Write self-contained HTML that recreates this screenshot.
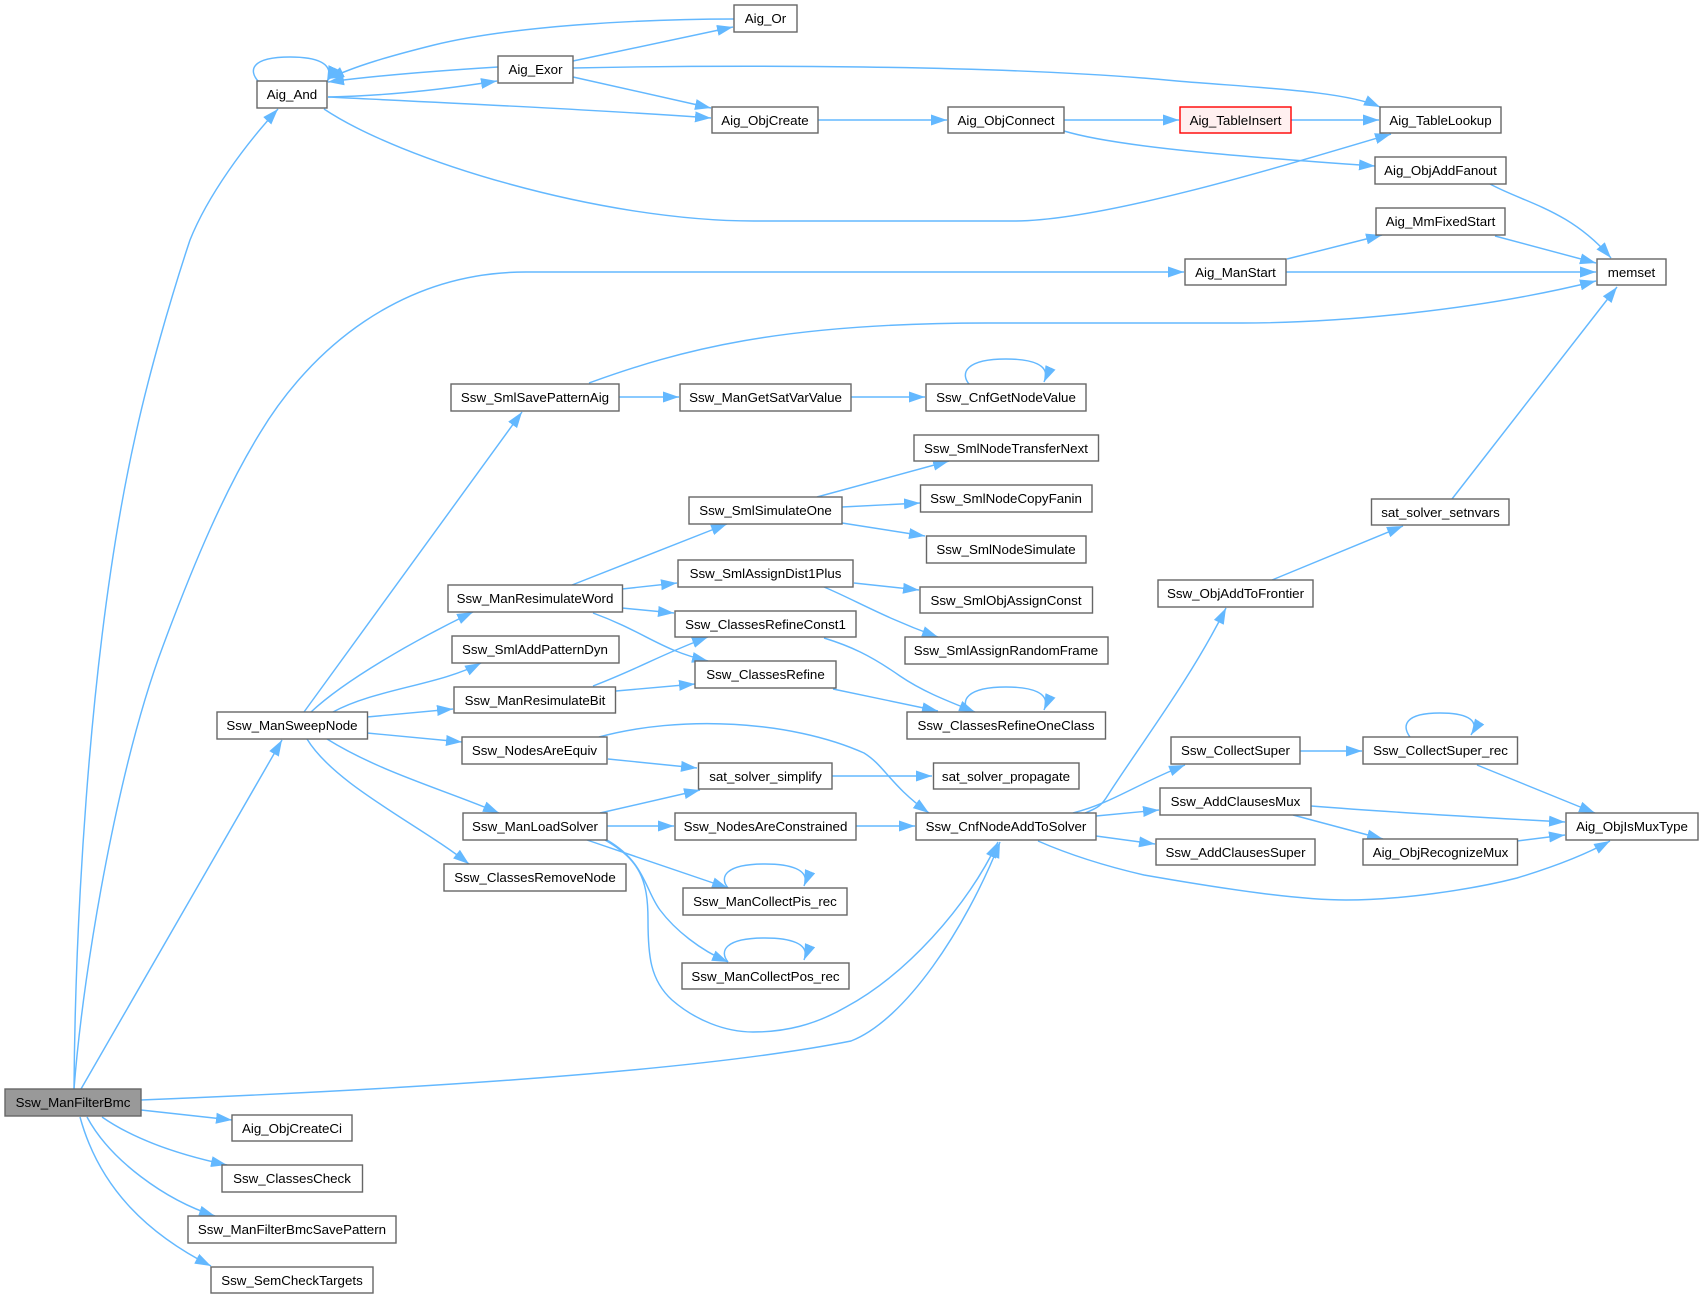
<!DOCTYPE html>
<html>
<head>
<meta charset="utf-8">
<style>
html,body{margin:0;padding:0;background:#fff;width:1702px;height:1299px;overflow:hidden}
svg{display:block}
text{font-family:"Liberation Sans",Arial,sans-serif;font-size:13.33px;text-anchor:middle;fill:#000}
.n rect{fill:#fff;stroke:#666;stroke-width:1.4}
.e path{fill:none;stroke:#63b8ff;stroke-width:1.45;marker-end:url(#a)}
</style>
</head>
<body>
<svg xmlns="http://www.w3.org/2000/svg" width="1702" height="1299" viewBox="0 0 1702 1299">
<defs>
<marker id="a" markerUnits="userSpaceOnUse" markerWidth="18" markerHeight="14" refX="16" refY="6" orient="auto">
<path d="M0,0.5 L16,6 L0,11.5 Z" fill="#63b8ff"/>
</marker>
</defs>
<g class="e">
<path d="M258 81 C249 71 250 57 290 57 C314 57 336 62 327 82"/>
<path d="M498 67 C450 70 380 75 328 82"/>
<path d="M734 19 C660 19 520 24 434 45 C390 56 355 66 328 79"/>
<path d="M328 97 C380 96 440 90 497 81"/>
<path d="M328 97 C450 103 600 110 711 118"/>
<path d="M573 61 L733 27"/>
<path d="M573 77 L711 108"/>
<path d="M573 68 C720 65 1000 64 1177 81 C1260 88 1345 91 1380 107"/>
<path d="M324 109 C400 160 600 221 754 221 L1014 221 C1100 221 1270 170 1391 134"/>
<path d="M818 120 L947 120"/>
<path d="M1064 120 L1179 120"/>
<path d="M1291 120 L1379 120"/>
<path d="M1064 131 C1120 148 1260 158 1375 166"/>
<path d="M1490 184 C1525 203 1570 210 1611 258"/>
<path d="M1495 236 L1596 263"/>
<path d="M1287 259 L1382 235"/>
<path d="M1286 272 L1596 272"/>
<path d="M74 1089 C75 960 85 660 136 433 C148 378 170 300 190 240 C208 195 245 145 278 109"/>
<path d="M74 1089 C84 960 120 760 163 646 C195 560 225 490 260 433 C310 350 400 272 526 272 L1184 272"/>
<path d="M81 1089 L282 740"/>
<path d="M141 1100 C340 1092 680 1075 851 1041 C905 1020 965 930 1000 842"/>
<path d="M141 1110 L232 1120"/>
<path d="M102 1117 C135 1140 180 1155 227 1165"/>
<path d="M87 1117 C110 1160 165 1200 215 1216"/>
<path d="M80 1117 C100 1190 150 1235 211 1266"/>
<path d="M304 712 L522 412"/>
<path d="M311 712 C345 680 415 640 473 612"/>
<path d="M333 712 C375 689 440 685 481 663"/>
<path d="M367 717 L453 709"/>
<path d="M367 733 L462 742"/>
<path d="M327 739 C380 772 445 790 499 813"/>
<path d="M307 739 C335 785 420 825 469 864"/>
<path d="M572 585 L727 524"/>
<path d="M622 589 L677 583"/>
<path d="M622 608 L674 613"/>
<path d="M593 613 C645 632 660 650 708 661"/>
<path d="M593 686 C640 668 660 655 708 637"/>
<path d="M616 691 L695 684"/>
<path d="M817 497 L949 461"/>
<path d="M842 507 L920 503"/>
<path d="M842 523 L925 536"/>
<path d="M854 583 L919 590"/>
<path d="M824 587 C855 600 885 618 938 637"/>
<path d="M824 638 C850 646 870 655 900 676 C922 691 945 700 975 712"/>
<path d="M833 689 L938 711"/>
<path d="M619 397 L679 397"/>
<path d="M851 397 L925 397"/>
<path d="M589 383 C680 350 780 323 987 323 L1242 323 C1340 323 1480 310 1596 281"/>
<path d="M1272 580 L1403 526"/>
<path d="M1452 499 L1617 287"/>
<path d="M608 759 L697 768"/>
<path d="M599 737 C680 715 790 720 864 753 C885 766 890 785 929 813"/>
<path d="M832 776 L932 776"/>
<path d="M600 813 L700 790"/>
<path d="M607 826 L674 826"/>
<path d="M856 826 L915 826"/>
<path d="M587 840 L728 888"/>
<path d="M607 840 C645 862 645 890 660 910 C675 930 700 950 728 962"/>
<path d="M605 840 C640 860 648 880 648 920 C648 955 650 980 672 1000 C695 1020 725 1032 753 1032 C785 1032 815 1025 846 1007 C905 975 965 910 998 842"/>
<path d="M1085 813 C1098 808 1102 805 1108 795 C1140 745 1190 680 1226 608"/>
<path d="M1073 813 C1112 803 1135 785 1185 765"/>
<path d="M1096 816 L1159 810"/>
<path d="M1096 836 L1155 844"/>
<path d="M1038 841 C1070 855 1105 866 1144 875 C1230 890 1300 900 1346 900 C1400 900 1470 890 1517 878 C1550 868 1585 855 1610 841"/>
<path d="M1311 806 C1400 813 1490 818 1565 822"/>
<path d="M1293 815 L1383 839"/>
<path d="M1517 841 L1565 835"/>
<path d="M1300 751 L1362 751"/>
<path d="M1477 765 L1595 813"/>
<path d="M969 384 C960 373 966 359 1006 359 C1030 359 1052 364 1044 382"/>
<path d="M969 712 C960 701 966 687 1006 687 C1030 687 1052 692 1044 710"/>
<path d="M1410 737 C1402 726 1404 713 1440 713 C1462 713 1482 718 1471 735"/>
<path d="M728 888 C719 877 725 864 765 864 C789 864 811 869 804 886"/>
<path d="M728 962 C719 951 725 938 765 938 C789 938 811 943 804 960"/>
</g>
<g class="n">
<rect x="257" y="81" width="70" height="27"/><text x="292" y="99">Aig_And</text>
<rect x="498" y="56" width="75" height="27"/><text x="535.5" y="74">Aig_Exor</text>
<rect x="734" y="5" width="63" height="27"/><text x="765.5" y="23">Aig_Or</text>
<rect x="712" y="107" width="106" height="26"/><text x="765" y="125">Aig_ObjCreate</text>
<rect x="948" y="107" width="116" height="26"/><text x="1006" y="125">Aig_ObjConnect</text>
<rect x="1180" y="107" width="111" height="26" style="fill:#fff0f0;stroke:#f00"/><text x="1235.5" y="125">Aig_TableInsert</text>
<rect x="1380" y="107" width="121" height="26"/><text x="1440.5" y="125">Aig_TableLookup</text>
<rect x="1375" y="157" width="131" height="27"/><text x="1440.5" y="175">Aig_ObjAddFanout</text>
<rect x="1376" y="208" width="129" height="27"/><text x="1440.5" y="226">Aig_MmFixedStart</text>
<rect x="1185" y="259" width="101" height="26"/><text x="1235.5" y="277">Aig_ManStart</text>
<rect x="1597" y="259" width="69" height="26"/><text x="1631.5" y="277">memset</text>
<rect x="451" y="384" width="168" height="27"/><text x="535" y="402">Ssw_SmlSavePatternAig</text>
<rect x="680" y="384" width="171" height="27"/><text x="765.5" y="402">Ssw_ManGetSatVarValue</text>
<rect x="926" y="384" width="160" height="27"/><text x="1006" y="402">Ssw_CnfGetNodeValue</text>
<rect x="914" y="435" width="184.500" height="26"/><text x="1006" y="453">Ssw_SmlNodeTransferNext</text>
<rect x="920.500" y="485" width="171.500" height="27"/><text x="1006" y="503">Ssw_SmlNodeCopyFanin</text>
<rect x="689" y="497" width="153" height="27"/><text x="765.5" y="515">Ssw_SmlSimulateOne</text>
<rect x="1371.500" y="499" width="137.500" height="26"/><text x="1440.5" y="517">sat_solver_setnvars</text>
<rect x="926.500" y="536" width="159.500" height="27"/><text x="1006" y="554">Ssw_SmlNodeSimulate</text>
<rect x="678" y="560" width="175" height="27"/><text x="765.5" y="578">Ssw_SmlAssignDist1Plus</text>
<rect x="1158" y="580" width="155" height="27"/><text x="1235.5" y="598">Ssw_ObjAddToFrontier</text>
<rect x="448" y="585" width="174.500" height="27"/><text x="535" y="603">Ssw_ManResimulateWord</text>
<rect x="920" y="587" width="172.500" height="26"/><text x="1006" y="605">Ssw_SmlObjAssignConst</text>
<rect x="675" y="611" width="181" height="26"/><text x="765.5" y="629">Ssw_ClassesRefineConst1</text>
<rect x="452" y="636" width="167" height="27"/><text x="535" y="654">Ssw_SmlAddPatternDyn</text>
<rect x="905" y="637" width="203" height="27"/><text x="1006" y="655">Ssw_SmlAssignRandomFrame</text>
<rect x="695" y="661" width="141" height="27"/><text x="765.5" y="679">Ssw_ClassesRefine</text>
<rect x="454" y="687" width="161.500" height="26"/><text x="535" y="705">Ssw_ManResimulateBit</text>
<rect x="217" y="712" width="150.500" height="27"/><text x="292" y="730">Ssw_ManSweepNode</text>
<rect x="907" y="712" width="198.500" height="27"/><text x="1006" y="730">Ssw_ClassesRefineOneClass</text>
<rect x="462" y="737" width="145" height="27"/><text x="534.5" y="755">Ssw_NodesAreEquiv</text>
<rect x="1171" y="737" width="129" height="27"/><text x="1235.5" y="755">Ssw_CollectSuper</text>
<rect x="1363" y="737" width="154.500" height="27"/><text x="1440.5" y="755">Ssw_CollectSuper_rec</text>
<rect x="698.500" y="763" width="133.500" height="26"/><text x="765.5" y="781">sat_solver_simplify</text>
<rect x="933.500" y="763" width="145.500" height="26"/><text x="1006" y="781">sat_solver_propagate</text>
<rect x="1160" y="788" width="151" height="27"/><text x="1235.5" y="806">Ssw_AddClausesMux</text>
<rect x="463" y="813" width="144" height="27"/><text x="535" y="831">Ssw_ManLoadSolver</text>
<rect x="675" y="813" width="181" height="27"/><text x="765.5" y="831">Ssw_NodesAreConstrained</text>
<rect x="916" y="813" width="180" height="27"/><text x="1006" y="831">Ssw_CnfNodeAddToSolver</text>
<rect x="1566" y="813" width="132" height="27"/><text x="1632" y="831">Aig_ObjIsMuxType</text>
<rect x="1156" y="839" width="159" height="26"/><text x="1235.5" y="857">Ssw_AddClausesSuper</text>
<rect x="1363" y="839" width="154.500" height="26"/><text x="1440.5" y="857">Aig_ObjRecognizeMux</text>
<rect x="444" y="864" width="182" height="27"/><text x="535" y="882">Ssw_ClassesRemoveNode</text>
<rect x="683" y="888" width="164" height="27"/><text x="765" y="906">Ssw_ManCollectPis_rec</text>
<rect x="682" y="963" width="167" height="26"/><text x="765.5" y="981">Ssw_ManCollectPos_rec</text>
<rect x="5" y="1089" width="136" height="27" style="fill:#999"/><text x="73" y="1107">Ssw_ManFilterBmc</text>
<rect x="232" y="1115" width="120" height="26"/><text x="292" y="1133">Aig_ObjCreateCi</text>
<rect x="222" y="1165" width="140.500" height="27"/><text x="292" y="1183">Ssw_ClassesCheck</text>
<rect x="188" y="1216" width="208" height="27"/><text x="292" y="1234">Ssw_ManFilterBmcSavePattern</text>
<rect x="211" y="1267" width="162" height="26"/><text x="292" y="1285">Ssw_SemCheckTargets</text>
</g>
</svg>
</body>
</html>
